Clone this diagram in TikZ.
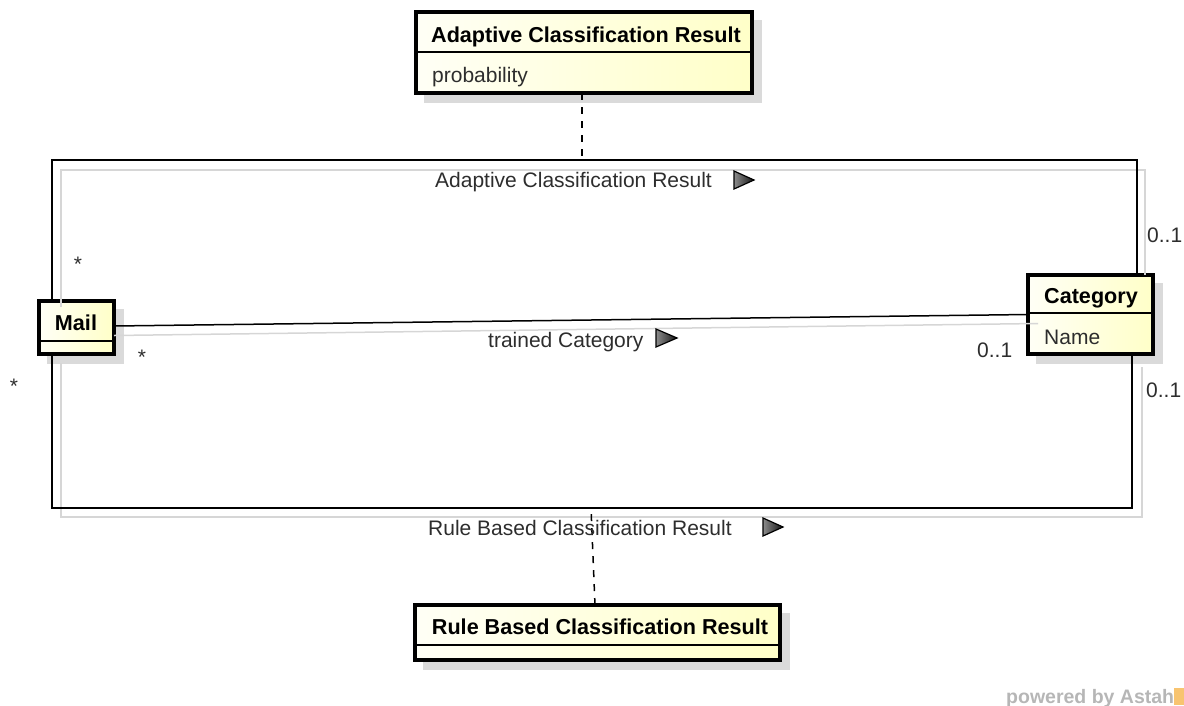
\documentclass[tikz,border=0pt]{standalone}
\usepackage{fontspec}
\setmainfont{Liberation Sans}
\usetikzlibrary{backgrounds}

\definecolor{boxleft}{RGB}{255,255,246}
\definecolor{boxright}{RGB}{255,255,200}
\definecolor{shadowgray}{RGB}{218,218,218}
\definecolor{ghostline}{RGB}{214,214,214}
\definecolor{labeltext}{RGB}{45,45,45}
\definecolor{logogray}{RGB}{182,182,182}
\definecolor{logoorange}{RGB}{248,196,112}

\tikzset{
  classbox/.style={draw=black, line width=3.5pt, left color=boxleft, right color=boxright,
    inner sep=0pt, outer sep=0pt, anchor=north west},
  sepline/.style={line width=1.5pt},
  txt/.style={inner sep=0pt, font=\fontsize{21pt}{25pt}\selectfont, text=labeltext},
  title/.style={inner sep=0pt, font=\fontsize{21.6pt}{25pt}\selectfont\bfseries, text=black},
  assoc/.style={line width=1.5pt, black},
  ghost/.style={line width=1.5pt, ghostline},
  dashedlink/.style={line width=1.5pt, dash pattern=on 7pt off 7pt},
  dirmark/.style={line width=1.2pt, draw=black, left color=black!45, right color=black!92},
}

\begin{document}
\begin{tikzpicture}[x=1pt, y=-1pt]
\useasboundingbox (0,0) rectangle (1184,705);

% ---- classes ----
\node[classbox, minimum width=336pt, minimum height=81pt] (acr) at (416,12) {};
\node[classbox, minimum width=75pt,  minimum height=53pt] (mail) at (39,301) {};
\node[classbox, minimum width=125pt, minimum height=79pt] (cat) at (1028,275) {};
\node[classbox, minimum width=365pt, minimum height=55pt] (rbcr) at (415,605) {};

% compartment separators
\draw[sepline] ([yshift=-40pt]acr.north west) -- ([yshift=-40pt]acr.north east);
\draw[sepline] ([yshift=-40pt]mail.north west) -- ([yshift=-40pt]mail.north east);
\draw[sepline] ([yshift=-38pt]cat.north west) -- ([yshift=-38pt]cat.north east);
\draw[sepline] ([yshift=-40pt]rbcr.north west) -- ([yshift=-40pt]rbcr.north east);

% drop shadows
\begin{scope}[on background layer]
  \foreach \n in {acr,mail,cat,rbcr}
    \fill[shadowgray] ([shift={(8pt,-8pt)}]\n.north west) rectangle ([shift={(10pt,-10pt)}]\n.south east);
\end{scope}

% class texts
\node[title, anchor=base] (acrname) at (586,42) {Adaptive Classification Result};
\node[txt, anchor=base west] (acrattr) at (432,82) {probability};
\node[title, anchor=base] (mailname) at (76,330) {Mail};
\node[title, anchor=base] (catname) at (1091,303) {Category};
\node[txt, anchor=base west] (catattr) at (1044,344) {Name};
\node[title, anchor=base] (rbcrname) at (600,634) {Rule Based Classification Result};

% ---- associations ----
\coordinate (topcorner) at (1137,160);
\coordinate (topcornerg) at (1145,170);
\coordinate (botcorner) at (1132,508);
\coordinate (botcornerg) at (1142,517);
\coordinate (acrjoin) at (582,160);
\coordinate (rbcrjoin) at (591,508);

% faint companion lines
\draw[ghost] ([shift={(22pt,-6pt)}]mail.north west) |- (topcornerg) -- ([xshift=-8pt]cat.north east);
\draw[ghost] ([yshift=-8pt]mail.east) -- ([shift={(10pt,-9pt)}]cat.west);
\draw[ghost] ([shift={(22pt,-9pt)}]mail.south west) |- (botcornerg) -- ([shift={(-11pt,-13pt)}]cat.south east);

% association lines
\draw[assoc] ([xshift=13pt]mail.north west) |- (topcorner) -- ([xshift=-16pt]cat.north east);
\draw[assoc] ([yshift=1.5pt]mail.east) -- (cat.west);
\draw[assoc] ([xshift=13pt]mail.south west) |- (botcorner) -- ([xshift=-21pt]cat.south east);

% association class links
\draw[dashedlink] ([xshift=-2pt]acr.south) -- (acrjoin);
\draw[dashedlink] ([xshift=-2.5pt]rbcr.north) -- (rbcrjoin);

% association names with reading direction marks
\node[txt, anchor=base west] (acrlabel) at (435,187) {Adaptive Classification Result};
\shadedraw[dirmark] (734,171) -- (734,189) -- (754,180) -- cycle;
\node[txt, anchor=base west] (trainedlabel) at (488,347) {trained Category};
\shadedraw[dirmark] (656,329) -- (656,347) -- (677,338) -- cycle;
\node[txt, anchor=base west] (rbcrlabel) at (428,535) {Rule Based Classification Result};
\shadedraw[dirmark] (763,518) -- (763,536) -- (783,527) -- cycle;

% multiplicities
\node[txt] (m1) at (78,264) {*};
\node[txt] (m2) at (142,357) {*};
\node[txt] (m3) at (14,386) {*};
\node[txt, anchor=base west] (c1) at (1147,242) {0..1};
\node[txt, anchor=base west] (c2) at (977,357) {0..1};
\node[txt, anchor=base west] (c3) at (1146,397) {0..1};

% footer
\node[inner sep=0pt, anchor=base west, font=\fontsize{19.5pt}{22pt}\selectfont\bfseries, text=logogray] (powered) at (1006,703) {powered by Astah};
\fill[logoorange] (1174,688) rectangle (1184,705);
\end{tikzpicture}
\end{document}
